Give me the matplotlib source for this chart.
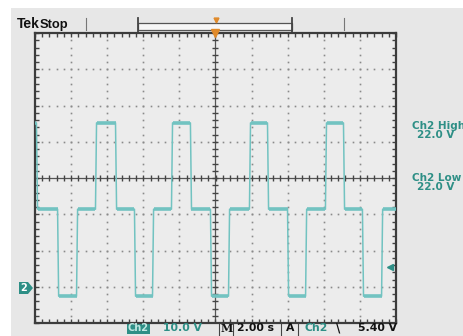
import numpy as np
import matplotlib
matplotlib.use("Agg")
import matplotlib.pyplot as plt
from matplotlib.lines import Line2D
from matplotlib.patches import Rectangle, Polygon
from matplotlib.ticker import MultipleLocator

volts_per_div = 10.0
sec_per_div = 2.0
ground_div = -3            # channel 2 ground marker, divisions from centre
# transition times (s, trigger at 0)
edges_t = [-9.92, -8.75, -7.70, -6.65, -5.54, -4.49, -3.49, -2.44, -1.39, -0.28,
           0.72, 1.88, 2.88, 3.99, 4.99, 6.09, 7.09, 8.14, 9.20]
# levels of each segment between transitions
level_names = ["H", "M", "L", "M", "H", "M", "L", "M", "H", "M",
               "L", "M", "H", "M", "L", "M", "H", "M", "L", "M"]
level_volts = {"H": 45.2, "M": 21.4, "L": -2.6}
trigger_level_volts = 5.40

W, H = 464, 336
TRACE = "#72c3c1"
TEAL = "#2e8f86"
FONT = ["DejaVu Sans"]
TOPFONT = ["Liberation Sans", "DejaVu Sans"]

fig = plt.figure(figsize=(W / 100, H / 100), dpi=100)
fig.patch.set_facecolor("white")

def fx(x):
    return x / W

def fy(y):
    return 1 - y / H

# grey panel
fig.patches.append(Rectangle((fx(11), 0), 1, fy(8), transform=fig.transFigure,
                             facecolor="#e7e7e7", edgecolor="none", zorder=-5))

ax = fig.add_axes([fx(35), 1 - 323 / H, 361 / W, 290 / H])
ax.set_zorder(2)
ax.set_facecolor("#ececec")
xmin, xmax = -5 * sec_per_div, 5 * sec_per_div
ylo = (-4 - ground_div) * volts_per_div
yhi = (4 - ground_div) * volts_per_div
ycen = (0 - ground_div) * volts_per_div
ax.set_xlim(xmin, xmax)
ax.set_ylim(ylo, yhi)

# graticule dots
xs_minor = np.arange(xmin, xmax + 1e-9, sec_per_div / 5)
ys_minor = np.arange(ylo, yhi + 1e-9, volts_per_div / 5)
for k in range(1, 10):
    xv = xmin + k * sec_per_div
    if abs(xv) < 1e-9:
        continue
    ax.plot(np.full_like(ys_minor, xv), ys_minor, ls="none", marker="s",
            ms=1.2, mec="none", mfc="#8a8a8a", zorder=1)
for k in range(1, 8):
    yv = ylo + k * volts_per_div
    if abs(yv - ycen) < 1e-9:
        continue
    ax.plot(xs_minor, np.full_like(xs_minor, yv), ls="none", marker="s",
            ms=1.2, mec="none", mfc="#8a8a8a", zorder=1)
# centre cross with ticks
ax.axhline(ycen, color="#555555", lw=0.9, zorder=1)
ax.axvline(0, color="#555555", lw=0.9, zorder=1)
ax.plot(xs_minor, np.full_like(xs_minor, ycen), ls="none", marker="|", ms=5,
        mew=1.0, color="#444444", zorder=1)
ax.plot(np.zeros_like(ys_minor), ys_minor, ls="none", marker="_", ms=5,
        mew=1.0, color="#444444", zorder=1)

ax.xaxis.set_major_locator(MultipleLocator(sec_per_div))
ax.xaxis.set_minor_locator(MultipleLocator(sec_per_div / 5))
ax.yaxis.set_major_locator(MultipleLocator(volts_per_div))
ax.yaxis.set_minor_locator(MultipleLocator(volts_per_div / 5))
ax.tick_params(which="both", direction="in", top=True, right=True,
               length=3.0, width=1.0, color="#444444",
               labelbottom=False, labelleft=False)
for s in ax.spines.values():
    s.set_color("#3c3c3c")
    s.set_linewidth(1.6)

# waveform
bounds = [xmin] + edges_t + [xmax]
rise = 0.06
tx, ty = [], []
for i, name in enumerate(level_names):
    v = level_volts[name]
    a, b = bounds[i], bounds[i + 1]
    a2 = a + (rise if i > 0 else 0)
    ax.plot([a2, b], [v, v], color=TRACE, lw=2.6, solid_capstyle="butt", zorder=3)
    tx += [a2, b]
    ty += [v, v]
ax.plot(tx, ty, color=TRACE, lw=1.1, zorder=3)

# trigger position marker top
ax.plot([0], [yhi], marker="v", ms=6, color="#e08a2a", clip_on=False, zorder=5)
# trigger level marker right
ax.plot([xmax - 0.33], [trigger_level_volts], marker="<", ms=4.5, color=TEAL,
        clip_on=False, zorder=5)

# ground marker left
gy = fy(288)
fig.patches.append(Polygon([[fx(19), gy + 6 / H], [fx(28), gy + 6 / H], [fx(33), gy],
                            [fx(28), gy - 6 / H], [fx(19), gy - 6 / H]],
                           closed=True, transform=fig.transFigure,
                           facecolor=TEAL, edgecolor="none", zorder=5))
fig.text(fx(24), gy, "2", color="white", fontsize=7, fontweight="bold",
         ha="center", va="center", zorder=6, family=FONT)

# top bar
fig.text(fx(17), fy(28), "Tek", fontsize=10, fontweight="bold", color="#111111",
         va="baseline", ha="left", family=TOPFONT)
fig.text(fx(40), fy(28), "Stop", fontsize=9.3, fontweight="bold", color="#111111",
         va="baseline", ha="left", family=TOPFONT)
for x in (86, 344):
    fig.add_artist(Line2D([fx(x), fx(x)], [fy(18), fy(30)], color="#777777",
                          lw=0.8, transform=fig.transFigure))
fig.patches.append(Rectangle((fx(138), fy(30)), fx(292) - fx(138), fy(23) - fy(30),
                             transform=fig.transFigure, facecolor="#f7f7f7",
                             edgecolor="#555555", lw=0.9))
for x in (138, 292):
    fig.add_artist(Line2D([fx(x), fx(x)], [fy(18), fy(32)], color="#444444",
                          lw=1.3, transform=fig.transFigure))
fig.add_artist(Line2D([fx(216)], [fy(20)], marker="v", ms=3.5, color="#e08a2a",
                      transform=fig.transFigure))

# right readouts
for y, txt, x, ha in ((126, "Ch2 High", 412, "left"), (135, "22.0 V", 436, "center"),
                      (178, "Ch2 Low", 412, "left"), (187, "22.0 V", 436, "center")):
    fig.text(fx(x), fy(y), txt, fontsize=7.5, fontweight="bold", color=TEAL,
             ha=ha, va="center", family=FONT)

# bottom readouts
by = fy(328)
fig.patches.append(Rectangle((fx(127), fy(334)), fx(150) - fx(127), fy(322) - fy(334),
                             transform=fig.transFigure, facecolor=TEAL,
                             edgecolor="none"))
fig.text(fx(138.5), by, "Ch2", fontsize=7, fontweight="bold", color="#bfe8e2",
         ha="center", va="center", family=FONT)
fig.text(fx(182.5), by, "10.0 V", fontsize=7.8, fontweight="bold", color=TEAL,
         ha="center", va="center", family=FONT)
for x in (219, 233, 281, 298):
    fig.add_artist(Line2D([fx(x), fx(x)], [fy(323), fy(335)], color="#444444",
                          lw=0.8, transform=fig.transFigure))
fig.text(fx(226.5), by, "M", fontsize=8, fontweight="bold", color="#111111",
         ha="center", va="center", family="DejaVu Serif")
fig.text(fx(256), by, "2.00 s", fontsize=7.8, fontweight="bold", color="#111111",
         ha="center", va="center", family=FONT)
fig.text(fx(290), by, "A", fontsize=7.8, fontweight="bold", color="#111111",
         ha="center", va="center", family=FONT)
fig.text(fx(316), by, "Ch2", fontsize=7.8, fontweight="bold", color=TEAL,
         ha="center", va="center", family=FONT)
fig.text(fx(338), by, "\\", fontsize=8.5, fontweight="bold", color="#111111",
         ha="center", va="center", family=FONT)
fig.text(fx(378), by, "5.40 V", fontsize=7.8, fontweight="bold", color="#111111",
         ha="center", va="center", family=FONT)

fig.savefig("out.png", dpi=100, facecolor=fig.get_facecolor())
